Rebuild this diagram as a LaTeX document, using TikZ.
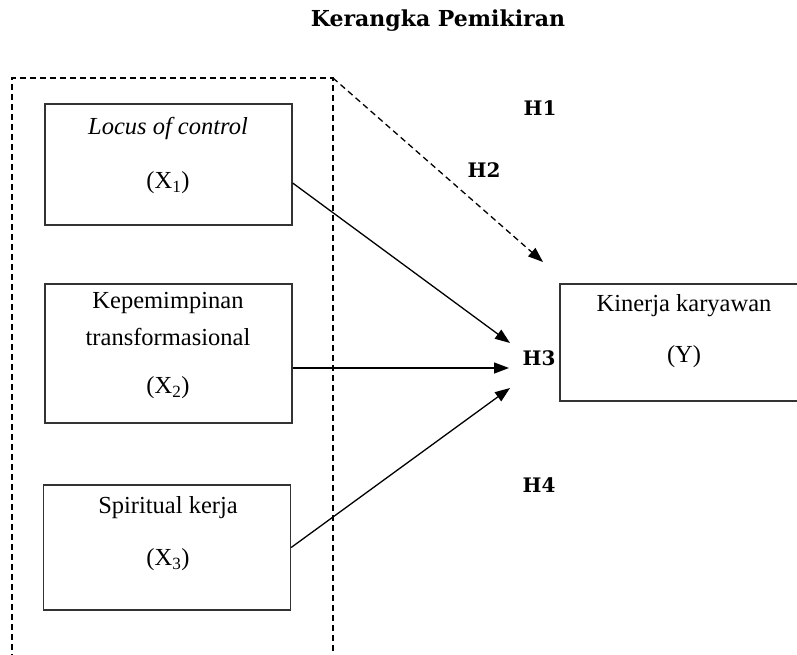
\documentclass[tikz,border=0pt]{standalone}
\usepackage{fontspec}
\setmainfont{Liberation Serif}
\newfontfamily\headfont{DejaVu Serif}
\usetikzlibrary{arrows.meta}

\begin{document}
\begin{tikzpicture}[x=1pt, y=-1pt,
  box/.style = {draw=black!80, line width=1.3pt, minimum width=247pt, inner sep=0pt},
  txt/.style = {font=\fontsize{24.5}{28}\selectfont, inner sep=0pt},
  hyp/.style = {font=\headfont\bfseries\fontsize{20}{23}\selectfont, inner sep=0pt},
  path/.style = {line width=1.3pt, -{Triangle[length=15pt, width=11pt]}},
  frame/.style = {line width=1.2pt, dash pattern=on 6pt off 4pt},
  ]
  \useasboundingbox (0,0) rectangle (797,654);

  \node[hyp, font=\headfont\bfseries\fontsize{22}{25}\selectfont] (title) at (438,21) {Kerangka Pemikiran};

  \coordinate (corner) at (333,78);
  \draw[frame] (12,660) -- (12,78) -- (corner) -- (333,660);

  \node[box, minimum height=121pt] (x1) at (168.5,164.5) {};
  \node[txt] (x1a) at (168,128) {\textit{Locus of control}};
  \node[txt] (x1b) at (168,183) {(X\textsubscript{1})};

  \node[box, minimum height=139pt] (x2) at (168.5,353.5) {};
  \node[txt] (x2a) at (168,303) {Kepemimpinan};
  \node[txt] (x2b) at (168,337) {transformasional};
  \node[txt] (x2c) at (168,388) {(X\textsubscript{2})};

  \node[box, minimum height=125pt] (x3) at (167,547.5) {};
  \node[txt] (x3a) at (168,508) {Spiritual kerja};
  \node[txt] (x3b) at (168,560) {(X\textsubscript{3})};

  \node[box, minimum width=250pt, minimum height=117pt] (y) at (685,342.5) {};
  \node[txt] (ya) at (684,306) {Kinerja karyawan};
  \node[txt] (yb) at (684,357) {(Y)};

  \node[hyp] (h1) at (540,108) {H1};
  \node[hyp] (h2) at (484,170) {H2};
  \node[hyp] (h3) at (539,358) {H3};
  \node[hyp] (h4) at (539,485) {H4};

  \coordinate (in0) at (543,262);
  \coordinate (in1) at (510,343);
  \coordinate (in2) at (509,368);
  \coordinate (in3) at (510,388);

  \draw[path, dash pattern=on 6pt off 4pt] (corner) -- (in0);
  \draw[path] ([yshift=-18.5pt]x1.east) -- (in1);
  \draw[path] ([yshift=-14.5pt]x2.east) -- (in2);
  \draw[path] (x3.east) -- (in3);
\end{tikzpicture}
\end{document}
